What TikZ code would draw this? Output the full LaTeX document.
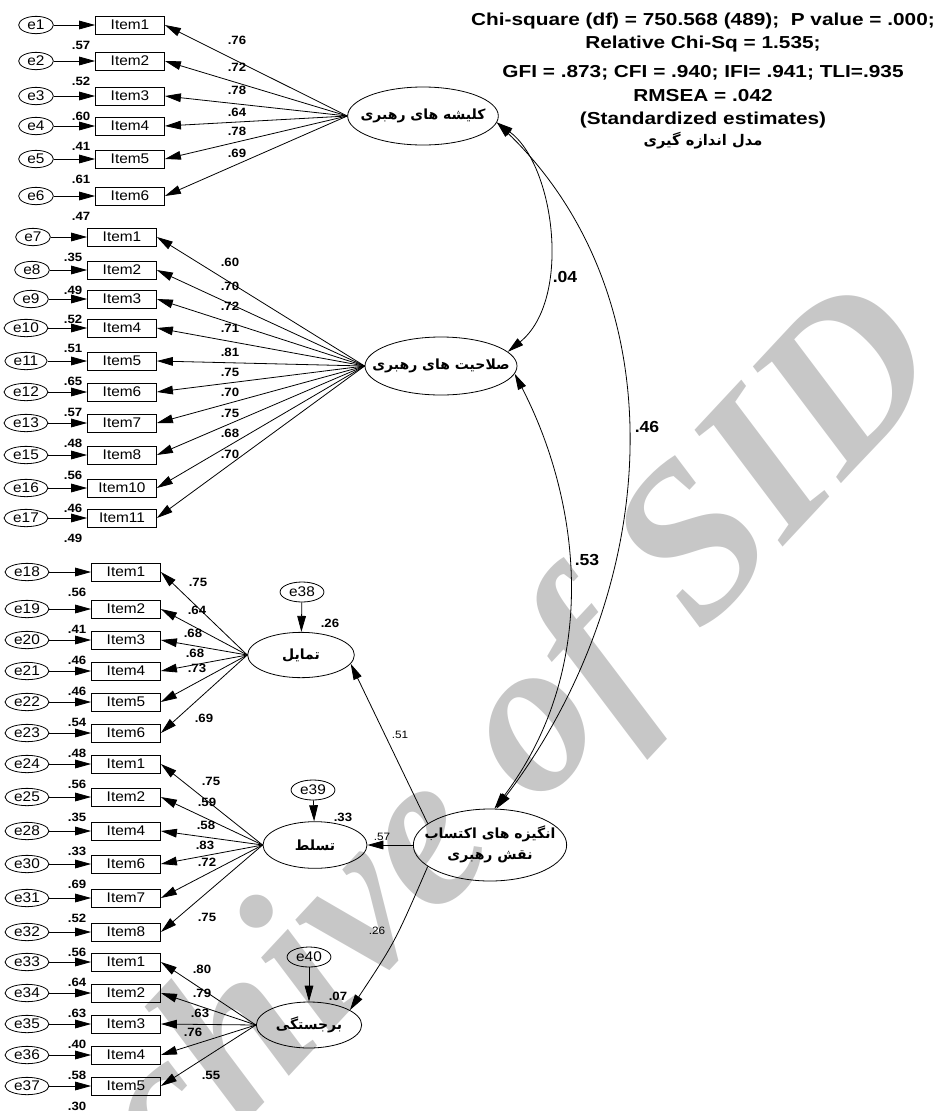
\documentclass[tikz,border=0pt]{standalone}
\usepackage{fontspec}
\setmainfont{Liberation Sans}[FakeStretch=1.1]
\newfontfamily\hdrfont{Liberation Sans}[FakeStretch=1.2]
\newfontfamily\farsi[Script=Arabic]{DejaVu Sans}
\newfontfamily\wmfont{Liberation Serif}
\usetikzlibrary{shapes.geometric}
\usetikzlibrary{arrows.meta}
\TeXXeTstate=1

\newcommand{\fa}[1]{\farsi\bfseries\beginR #1\endR}

\begin{document}
\begin{tikzpicture}[x=0.75pt, y=-0.75pt, line width=0.6pt,
		>={Triangle[length=12pt,width=6.5pt]}]

		\tikzset{
			err/.style={draw, ellipse, inner xsep=2pt, inner ysep=0pt, minimum width=26pt, minimum height=13pt, font=\fontsize{10.5}{12}\selectfont},
			obs/.style={draw, rectangle, inner sep=0pt, minimum width=51.75pt, minimum height=13.5pt, font=\fontsize{10.5}{12}\selectfont},
			lat/.style={draw, ellipse, inner sep=0pt, font=\fontsize{10.5}{13}\selectfont},
			ld/.style={inner sep=0pt, font=\bfseries\fontsize{9}{10}\selectfont},
			cov/.style={inner sep=0pt, font=\bfseries\fontsize{12}{14}\selectfont},
			coef/.style={inner sep=0pt, font=\fontsize{8}{10}\selectfont},
			hdr/.style={inner sep=0pt, anchor=base, font=\hdrfont\bfseries\fontsize{13}{15}\selectfont},
			wm/.style={inner sep=0pt, text=black!22, font=\wmfont\bfseries\itshape\fontsize{165}{165}\selectfont},
		}

		\useasboundingbox (0,0) rectangle (942,1111);

		% watermark
		\node[wm, rotate=47] (wmark) at (445,830) {Archive of SID};

		% fit indices
		\node[hdr] (fit1) at (703,25) {Chi-square (df) = 750.568 (489);\ \ P value = .000;};
		\node[hdr] (fit2) at (703,48) {Relative Chi-Sq = 1.535;};
		\node[hdr] (fit3) at (703,77) {GFI = .873; CFI = .940; IFI= .941; TLI=.935};
		\node[hdr] (fit4) at (703,101) {RMSEA = .042};
		\node[hdr] (fit5) at (703,124) {(Standardized estimates)};
		\node[inner sep=0pt, anchor=base, font=\fontsize{11}{13}\selectfont] (title) at (703,145) {\fa{مدل اندازه گیری}};

		% latent variables
		\node[lat, minimum width=113pt, minimum height=43.5pt] (klishe) at (423,116) {\makebox[0pt]{\fa{کلیشه های رهبری}}};
		\node[lat, minimum width=114pt, minimum height=43.5pt] (salahiat) at (441,366) {\makebox[0pt]{\fa{صلاحیت های رهبری}}};
		\node[lat, minimum width=80pt, minimum height=34pt] (tamayol) at (301,655) {\makebox[0pt]{\fa{تمایل}}};
		\node[lat, minimum width=78pt, minimum height=35pt] (tasallot) at (315,845) {\makebox[0pt]{\fa{تسلط}}};
		\node[lat, minimum width=79pt, minimum height=34.5pt] (barjastegi) at (309,1025) {\makebox[0pt]{\fa{برجستگی}}};
		\node[lat, minimum width=115pt, minimum height=54pt] (angizeh) at (490,845) {\makebox[0pt]{\begin{tabular}{@{}c@{}}\fa{انگیزه های اکتساب}\\[3pt]\fa{نقش رهبری}\end{tabular}}};

		% first factor
		\foreach \n/\lab/\y/\rsq/\load/\lx/\ly in {1/Item1/25/.57/.76/237/40, 2/Item2/61/.52/.72/237/67, 3/Item3/96/.60/.78/237/90, 4/Item4/126/.41/.64/237/112, 5/Item5/159/.61/.78/237/131, 6/Item6/196/.47/.69/237/153}{
			\node[err] (e\n) at (36,\y) {e\n};
			\node[obs] (x\n) at (130,\y) {\lab};
			\draw[->] (e\n) -- (x\n);
			\draw[->] (klishe.west) -- (x\n.east);
			\node[ld] (r\n) at ([shift={(-14,11)}]x\n.south west) {\rsq};
			\node[ld] (w\n) at (\lx,\ly) {\load};
		}

		% second factor
		\foreach \n/\ex/\lab/\y/\rsq/\load/\ly in {7/33/Item1/237/.35/.60/262, 8/32/Item2/270/.49/.70/286, 9/31/Item3/299/.52/.72/306, 10/26/Item4/328/.51/.71/328, 11/26/Item5/361/.65/.81/352, 12/26/Item6/392/.57/.75/372, 13/26/Item7/423/.48/.70/392, 15/26/Item8/455/.56/.75/413, 16/26/Item10/488/.46/.68/433, 17/26/Item11/518/.49/.70/454}{
			\node[err] (e\n) at (\ex,\y) {e\n};
			\node[obs] (x\n) at (122,\y) {\lab};
			\draw[->] (e\n) -- (x\n);
			\draw[->] (salahiat.west) -- (x\n.east);
			\node[ld] (r\n) at ([shift={(-14,11)}]x\n.south west) {\rsq};
			\node[ld] (w\n) at (230,\ly) {\load};
		}

		% dimensions of motivation
		\foreach \n/\lv/\lab/\y/\rsq/\load/\lx/\ly in {18/tamayol/Item1/572/.56/.75/198/582, 19/tamayol/Item2/609/.41/.64/197/610, 20/tamayol/Item3/640/.46/.68/193/633, 21/tamayol/Item4/671/.46/.68/195/653, 22/tamayol/Item5/702/.54/.73/197/668, 23/tamayol/Item6/733/.48/.69/204/718,
			24/tasallot/Item1/764/.56/.75/211/781, 25/tasallot/Item2/797/.35/.59/207/802, 28/tasallot/Item4/831/.33/.58/206/825, 30/tasallot/Item6/864/.69/.83/205/845, 31/tasallot/Item7/898/.52/.72/207/862, 32/tasallot/Item8/932/.56/.75/207/917,
			33/barjastegi/Item1/962/.64/.80/202/969, 34/barjastegi/Item2/993/.63/.79/202/993, 35/barjastegi/Item3/1024/.40/.63/200/1013, 36/barjastegi/Item4/1055/.58/.76/193/1032, 37/barjastegi/Item5/1086/.30/.55/211/1075}{
			\node[err] (e\n) at (27,\y) {e\n};
			\node[obs] (x\n) at (126,\y) {\lab};
			\draw[->] (e\n) -- (x\n);
			\draw[->] (\lv.west) -- (x\n.east);
			\node[ld] (r\n) at ([shift={(-14,11)}]x\n.south west) {\rsq};
			\node[ld] (w\n) at (\lx,\ly) {\load};
		}

		% disturbances
		\node[err, minimum width=28.5pt, minimum height=15pt] (e38) at (302,592) {e38};
		\node[err, minimum width=28.5pt, minimum height=15pt] (e39) at (313,790) {e39};
		\node[err, minimum width=28.5pt, minimum height=15pt] (e40) at (309,957) {e40};
		\draw[->] (e38) -- (tamayol);
		\draw[->] (e39) -- (tasallot);
		\draw[->] (e40) -- (barjastegi);
		\node[ld] (r38) at (330,623) {.26};
		\node[ld] (r39) at (343,817) {.33};
		\node[ld] (r40) at (338,996) {.07};

		% structural paths
		\draw[->] (angizeh.161) -- (tamayol.-10);
		\draw[->] (angizeh.west) -- (tasallot.east);
		\draw[->] (angizeh.199) .. controls (395,942) .. (barjastegi.20);
		\node[coef] (p1) at (400,735) {.51};
		\node[coef] (p2) at (382,837) {.57};
		\node[coef] (p3) at (377,931) {.26};

		% correlations
		\draw[<->] (klishe.-5) .. controls (555,165) and (572,300) .. (salahiat.12);
		\draw[<->] (klishe.-5) .. controls (680,300) and (662,590) .. (angizeh.80);
		\draw[<->] (salahiat.-6) .. controls (580,500) and (602,666) .. (angizeh.83);
		\node[cov] (c1) at (565,277) {.04};
		\node[cov] (c2) at (647,427) {.46};
		\node[cov] (c3) at (587,560) {.53};
\end{tikzpicture}
\end{document}
